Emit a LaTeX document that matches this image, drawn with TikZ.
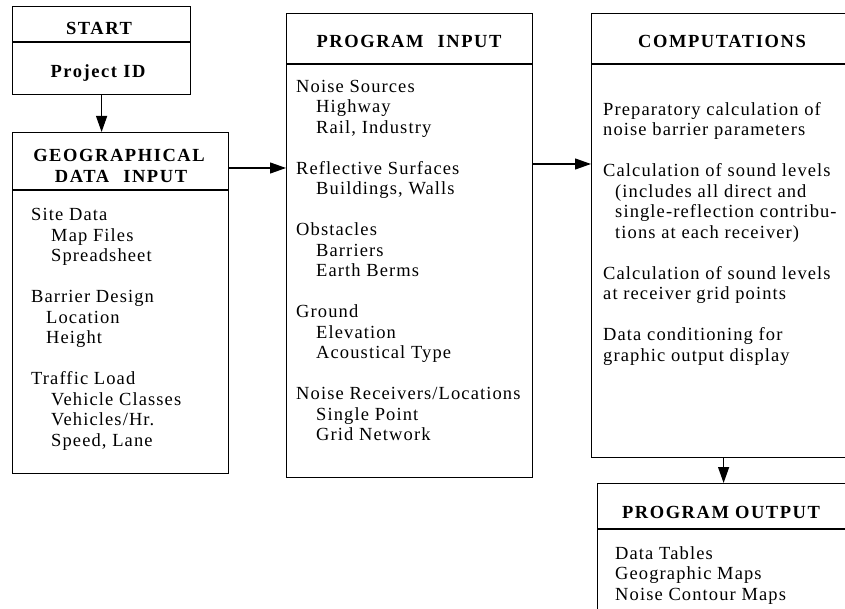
\documentclass[tikz,border=0pt]{standalone}
\usepackage{fontspec}
\setmainfont{Liberation Serif}[LetterSpace=6]
\newfontfamily\titlefont{Liberation Serif}[LetterSpace=8.5]
\usetikzlibrary{arrows.meta}
\begin{document}
\begin{tikzpicture}[x=1pt,y=-1pt,
  box/.style={draw,line width=1.2pt,rectangle,inner sep=0pt,anchor=north west},
  ttl/.style={font=\titlefont\bfseries\fontsize{18.5}{20.5}\selectfont, anchor=base, inner sep=0pt},
  body/.style={font=\fontsize{18.5}{20.5}\selectfont, anchor=base west, inner sep=0pt, align=left},
  arr/.style={line width=1.2pt, -{Triangle[length=16pt,width=11pt]}},
  rule/.style={line width=1.2pt}]
\useasboundingbox (0,0) rectangle (845,609);
\clip (0,0) rectangle (845,609);

% START
\node[box, minimum width=178pt, minimum height=88pt] (start) at (12,6) {};
\draw[rule] ([yshift=-36pt]start.north west) -- ([yshift=-36pt]start.north east);
\node[ttl] (startT) at (99,35) {START};
\node[ttl] (projid) at (98,78) {Project ID};

% GEOGRAPHICAL DATA INPUT  (body anchored at the baseline of its last line)
\node[box, minimum width=216pt, minimum height=341pt] (geo) at (12,132) {};
\draw[rule] ([yshift=-58pt]geo.north west) -- ([yshift=-58pt]geo.north east);
\node[ttl] (geoT1) at (119,162) {GEOGRAPHICAL};
\node[ttl] (geoT2) at (121,183) {DATA\hspace{14pt}INPUT};
\node[body] (geoB) at (31,446) {Site Data\\
\hspace*{20pt}Map Files\\
\hspace*{20pt}Spreadsheet\\[20.5pt]
Barrier Design\\
\hspace*{15pt}Location\\
\hspace*{15pt}Height\\[20.5pt]
Traffic Load\\
\hspace*{20pt}Vehicle Classes\\
\hspace*{20pt}Vehicles/Hr.\\
\hspace*{20pt}Speed, Lane};

% PROGRAM INPUT
\node[box, minimum width=246pt, minimum height=464pt] (pi) at (286,13) {};
\draw[rule] ([yshift=-51pt]pi.north west) -- ([yshift=-51pt]pi.north east);
\node[ttl] (piT) at (409,48) {PROGRAM\hspace{14pt}INPUT};
\node[body] (piB) at (296,440.5) {Noise Sources\\
\hspace*{20pt}Highway\\
\hspace*{20pt}Rail, Industry\\[20.5pt]
Reflective Surfaces\\
\hspace*{20pt}Buildings, Walls\\[20.5pt]
Obstacles\\
\hspace*{20pt}Barriers\\
\hspace*{20pt}Earth Berms\\[20.5pt]
Ground\\
\hspace*{20pt}Elevation\\
\hspace*{20pt}Acoustical Type\\[20.5pt]
Noise Receivers/Locations\\
\hspace*{20pt}Single Point\\
\hspace*{20pt}Grid Network};

% COMPUTATIONS
\node[box, minimum width=264pt, minimum height=444pt] (comp) at (591,13) {};
\draw[rule] ([yshift=-51pt]comp.north west) -- ([yshift=-51pt]comp.north east);
\node[ttl] (compT) at (722,48) {COMPUTATIONS};
\node[body] (compB) at (603,361) {Preparatory calculation of\\
noise barrier parameters\\[20.5pt]
Calculation of sound levels\\
\hspace*{12pt}(includes all direct and\\
\hspace*{12pt}single-reflection contribu-\\
\hspace*{12pt}tions at each receiver)\\[20.5pt]
Calculation of sound levels\\
at receiver grid points\\[20.5pt]
Data conditioning for\\
graphic output display};

% PROGRAM OUTPUT
\node[box, minimum width=253pt, minimum height=150pt] (out) at (597,483) {};
\draw[rule] ([yshift=-46pt]out.north west) -- ([yshift=-46pt]out.north east);
\node[ttl] (outT) at (721,518) {PROGRAM\hspace{6pt}OUTPUT};
\node[body] (outB) at (615,600) {Data Tables\\
Geographic Maps\\
Noise Contour Maps};

% connectors
\coordinate (g2) at (0,168);
\coordinate (p3) at (0,164);
\draw[arr] (start.south) -- (start.south |- geo.north);
\draw[arr] (geo.east |- g2) -- (pi.west |- g2);
\draw[arr] (pi.east |- p3) -- (comp.west |- p3);
\draw[arr] (comp.south) -- (comp.south |- out.north);
\end{tikzpicture}
\end{document}
